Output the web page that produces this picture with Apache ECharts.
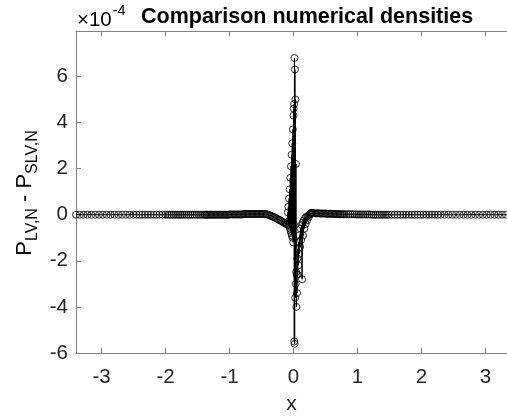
<!DOCTYPE html>
<html><head><meta charset="utf-8">
<script src="https://cdn.jsdelivr.net/npm/echarts@6/dist/echarts.min.js"></script>
<style>html,body{margin:0;padding:0;background:#fff}#c{width:507px;height:420px}</style>
</head><body><div id="c"></div>
<script>
// Values of P_LV,N - P_SLV,N in units of 1e-4
const xTicks = [-3, -2, -1, 0, 1, 2, 3];
const yTicks = [-6, -4, -2, 0, 2, 4, 6];
const yScaleLabel = '-4';

const segLeftFar = [[-3.40,0],[-3.34,0],[-3.28,0],[-3.22,0],[-3.16,0],[-3.10,0],[-3.04,0],[-2.98,0],[-2.92,0],[-2.86,0],[-2.80,0],[-2.74,0],[-2.68,0],[-2.62,0],[-2.56,0],[-2.50,0],[-2.455,0],[-2.41,0],[-2.365,0],[-2.32,0],[-2.275,0],[-2.23,0],[-2.185,0],[-2.14,0],[-2.095,0],[-2.05,0],[-2.005,0]];
const segLeftMid = [[-1.97,0],[-1.94,0],[-1.91,0],[-1.88,0],[-1.85,0],[-1.82,0],[-1.79,0],[-1.76,0],[-1.73,0],[-1.70,0],[-1.67,0],[-1.64,0],[-1.61,0],[-1.58,0],[-1.55,0],[-1.52,0],[-1.49,0],[-1.46,0],[-1.43,0],[-1.40,0]];
const segLeftNear = [[-1.38,0],[-1.36,0],[-1.34,0],[-1.32,0],[-1.30,0],[-1.28,0],[-1.26,0],[-1.24,0],[-1.22,0],[-1.20,0],[-1.18,0],[-1.16,0],[-1.14,0],[-1.12,0],[-1.10,0],[-1.08,0],[-1.06,0],[-1.04,0],[-1.02,0],
  [-1.00,0.01],[-0.98,0.01],[-0.96,0.01],[-0.94,0.01],[-0.92,0.01],[-0.90,0.01],[-0.88,0.01],[-0.86,0.01],[-0.84,0.01],[-0.82,0.01],[-0.80,0.01],
  [-0.78,0.03],[-0.76,0.03],[-0.74,0.03],[-0.72,0.03],[-0.70,0.03],[-0.68,0.03],[-0.66,0.03],[-0.64,0.03],[-0.62,0.03],[-0.60,0.03],[-0.58,0.03],[-0.56,0.03],[-0.54,0.03],[-0.52,0.03],[-0.50,0.03],[-0.48,0.03],[-0.46,0.03]];
const segLeftDip = [[-0.44,0.03],[-0.42,0.02],[-0.40,0.00],[-0.38,-0.02],[-0.36,-0.04],[-0.34,-0.06],[-0.32,-0.09],[-0.30,-0.11],[-0.28,-0.14],[-0.26,-0.17],[-0.24,-0.20],[-0.22,-0.23],[-0.20,-0.26],[-0.18,-0.29],[-0.16,-0.33],[-0.14,-0.36],[-0.12,-0.39],[-0.105,-0.41],[-0.095,-0.43]];
const segSpike = [[-0.090,0.10],[-0.085,-0.30],[-0.080,0.35],[-0.075,-0.45],[-0.070,0.70],[-0.065,-0.50],[-0.060,1.10],[-0.055,-0.60],[-0.050,1.60],[-0.045,-0.70],[-0.040,2.10],[-0.035,-0.80],[-0.030,2.60],[-0.025,-0.90],[-0.020,3.10],[-0.015,-1.00],[-0.010,3.70],[-0.005,-1.20],[0.000,4.30],[0.003,4.60],[0.006,-0.40],[0.009,4.80],[0.012,-5.50],[0.015,6.80],[0.018,-5.60],[0.022,6.30],[0.026,-3.60],[0.030,5.00],[0.034,-3.00],[0.038,2.20],[0.042,-2.50]];
const segRightDip = [[0.045,-4.00],[0.050,-2.60],[0.055,-3.40],[0.060,-1.90],[0.065,-2.60],[0.070,-1.50],[0.075,-2.20],[0.080,-1.20],[0.088,-1.70],[0.095,-0.90],[0.103,-1.40],[0.110,-0.60],[0.118,-1.10],[0.126,-0.45],[0.134,-2.80],[0.142,-0.35],[0.150,-0.90],[0.160,-0.25],[0.170,-0.60],[0.180,-0.15],[0.190,-0.40],[0.200,-0.10],[0.212,-0.25],[0.224,-0.05],[0.236,-0.12],[0.248,0.00],[0.260,0.03],[0.270,0.06],[0.280,0.08],[0.290,0.08],[0.300,0.07]];
const segRightNear = [[0.32,0.06],[0.34,0.06],[0.36,0.06],[0.38,0.06],[0.40,0.06],[0.42,0.05],[0.44,0.05],[0.46,0.05],[0.48,0.05],[0.50,0.05],[0.52,0.04],[0.54,0.04],[0.56,0.04],[0.58,0.04],[0.60,0.04],[0.62,0.03],[0.64,0.03],[0.66,0.03],[0.68,0.03],[0.70,0.03],[0.72,0.02],[0.74,0.02],[0.76,0.02],[0.78,0.02],[0.80,0.02]];
const segRightMid = [[0.83,0.02],[0.86,0.02],[0.89,0.02],[0.92,0.02],[0.95,0.02],[0.98,0.01],[1.01,0.01],[1.04,0.01],[1.07,0.01],[1.10,0.01],[1.13,0.01],[1.16,0.01],[1.19,0.01],[1.22,0],[1.25,0],[1.28,0],[1.31,0],[1.34,0],[1.37,0],[1.40,0],[1.43,0],[1.46,0],[1.49,0]];
const segRightFar = [[1.535,0],[1.58,0],[1.625,0],[1.67,0],[1.715,0],[1.76,0],[1.805,0],[1.85,0],[1.895,0],[1.94,0],[1.985,0],[2.03,0],[2.075,0],[2.12,0],[2.165,0],[2.21,0],[2.255,0],[2.30,0],
  [2.36,0],[2.42,0],[2.48,0],[2.54,0],[2.60,0],[2.66,0],[2.72,0],[2.78,0],[2.84,0],[2.90,0],[2.96,0],[3.02,0],[3.08,0],[3.14,0],[3.20,0],[3.26,0],[3.32,0],[3.38,0]];

const data = [].concat(segLeftFar, segLeftMid, segLeftNear, segLeftDip, segSpike, segRightDip, segRightNear, segRightMid, segRightFar);

const FONT = '"Liberation Sans", Arial, Helvetica, sans-serif';
const AX = '#808080';
const TXT = '#262626';

const chart = echarts.init(document.getElementById('c'), null, {renderer: 'canvas'});
chart.setOption({
  animation: false,
  backgroundColor: '#fff',
  title: {
    text: 'Comparison numerical densities', left: 141, top: 6, padding: 0,
    textStyle: {fontFamily: FONT, fontSize: 21.5, fontWeight: 'bold', color: '#000'}
  },
  grid: {left: 76, right: 0, top: 31, bottom: 66},
  xAxis: [{
    type: 'value', min: -3.4, max: 3.3375, position: 'bottom',
    name: 'x', nameLocation: 'middle', nameGap: 41,
    nameTextStyle: {fontFamily: FONT, fontSize: 21, color: TXT},
    axisLine: {show: true, onZero: false, lineStyle: {color: AX, width: 1}},
    axisTick: {show: true, inside: true, length: 5, customValues: xTicks, lineStyle: {color: AX}},
    axisLabel: {customValues: xTicks, margin: 14, fontFamily: FONT, fontSize: 20.5, color: TXT},
    splitLine: {show: false}
  }, {
    type: 'value', min: -3.4, max: 3.3375, position: 'top',
    axisLine: {show: true, onZero: false, lineStyle: {color: AX, width: 1}},
    axisTick: {show: true, inside: true, length: 5, customValues: xTicks, lineStyle: {color: AX}},
    axisLabel: {show: false},
    splitLine: {show: false}
  }],
  yAxis: {
    type: 'value', min: -6, max: 7.97,
    axisLine: {show: true, onZero: false, lineStyle: {color: AX, width: 1}},
    axisTick: {show: true, inside: true, length: 5, customValues: yTicks, lineStyle: {color: AX}},
    axisLabel: {customValues: yTicks, margin: 8, fontFamily: FONT, fontSize: 20.5, color: TXT},
    splitLine: {show: false}
  },
  series: [{
    type: 'line', xAxisIndex: 0, data: data,
    symbol: 'circle', symbolSize: 7, showAllSymbol: true, clip: true,
    lineStyle: {color: '#000', width: 1},
    itemStyle: {color: 'rgba(0,0,0,0)', borderColor: '#000', borderWidth: 0.8},
    emphasis: {disabled: true}
  }],
  graphic: [{
    type: 'text', left: 77, top: 3,
    style: {
      text: '{a|×10}{s|' + yScaleLabel + '}',
      rich: {
        a: {fontFamily: FONT, fontSize: 20.5, color: TXT, lineHeight: 28, verticalAlign: 'bottom'},
        s: {fontFamily: FONT, fontSize: 14.5, color: TXT, lineHeight: 28, verticalAlign: 'top', padding: [0, 0, 0, 1]}
      }
    }
  }, {
    type: 'text', x: 25, y: 193, rotation: Math.PI / 2,
    style: {
      text: '{a|P}{s|LV,N}{a| - P}{s|SLV,N}',
      align: 'center', verticalAlign: 'middle',
      rich: {
        a: {fontFamily: FONT, fontSize: 22, color: TXT, lineHeight: 32, verticalAlign: 'middle'},
        s: {fontFamily: FONT, fontSize: 16, color: TXT, lineHeight: 16, verticalAlign: 'bottom'}
      }
    }
  }]
});
</script></body></html>
